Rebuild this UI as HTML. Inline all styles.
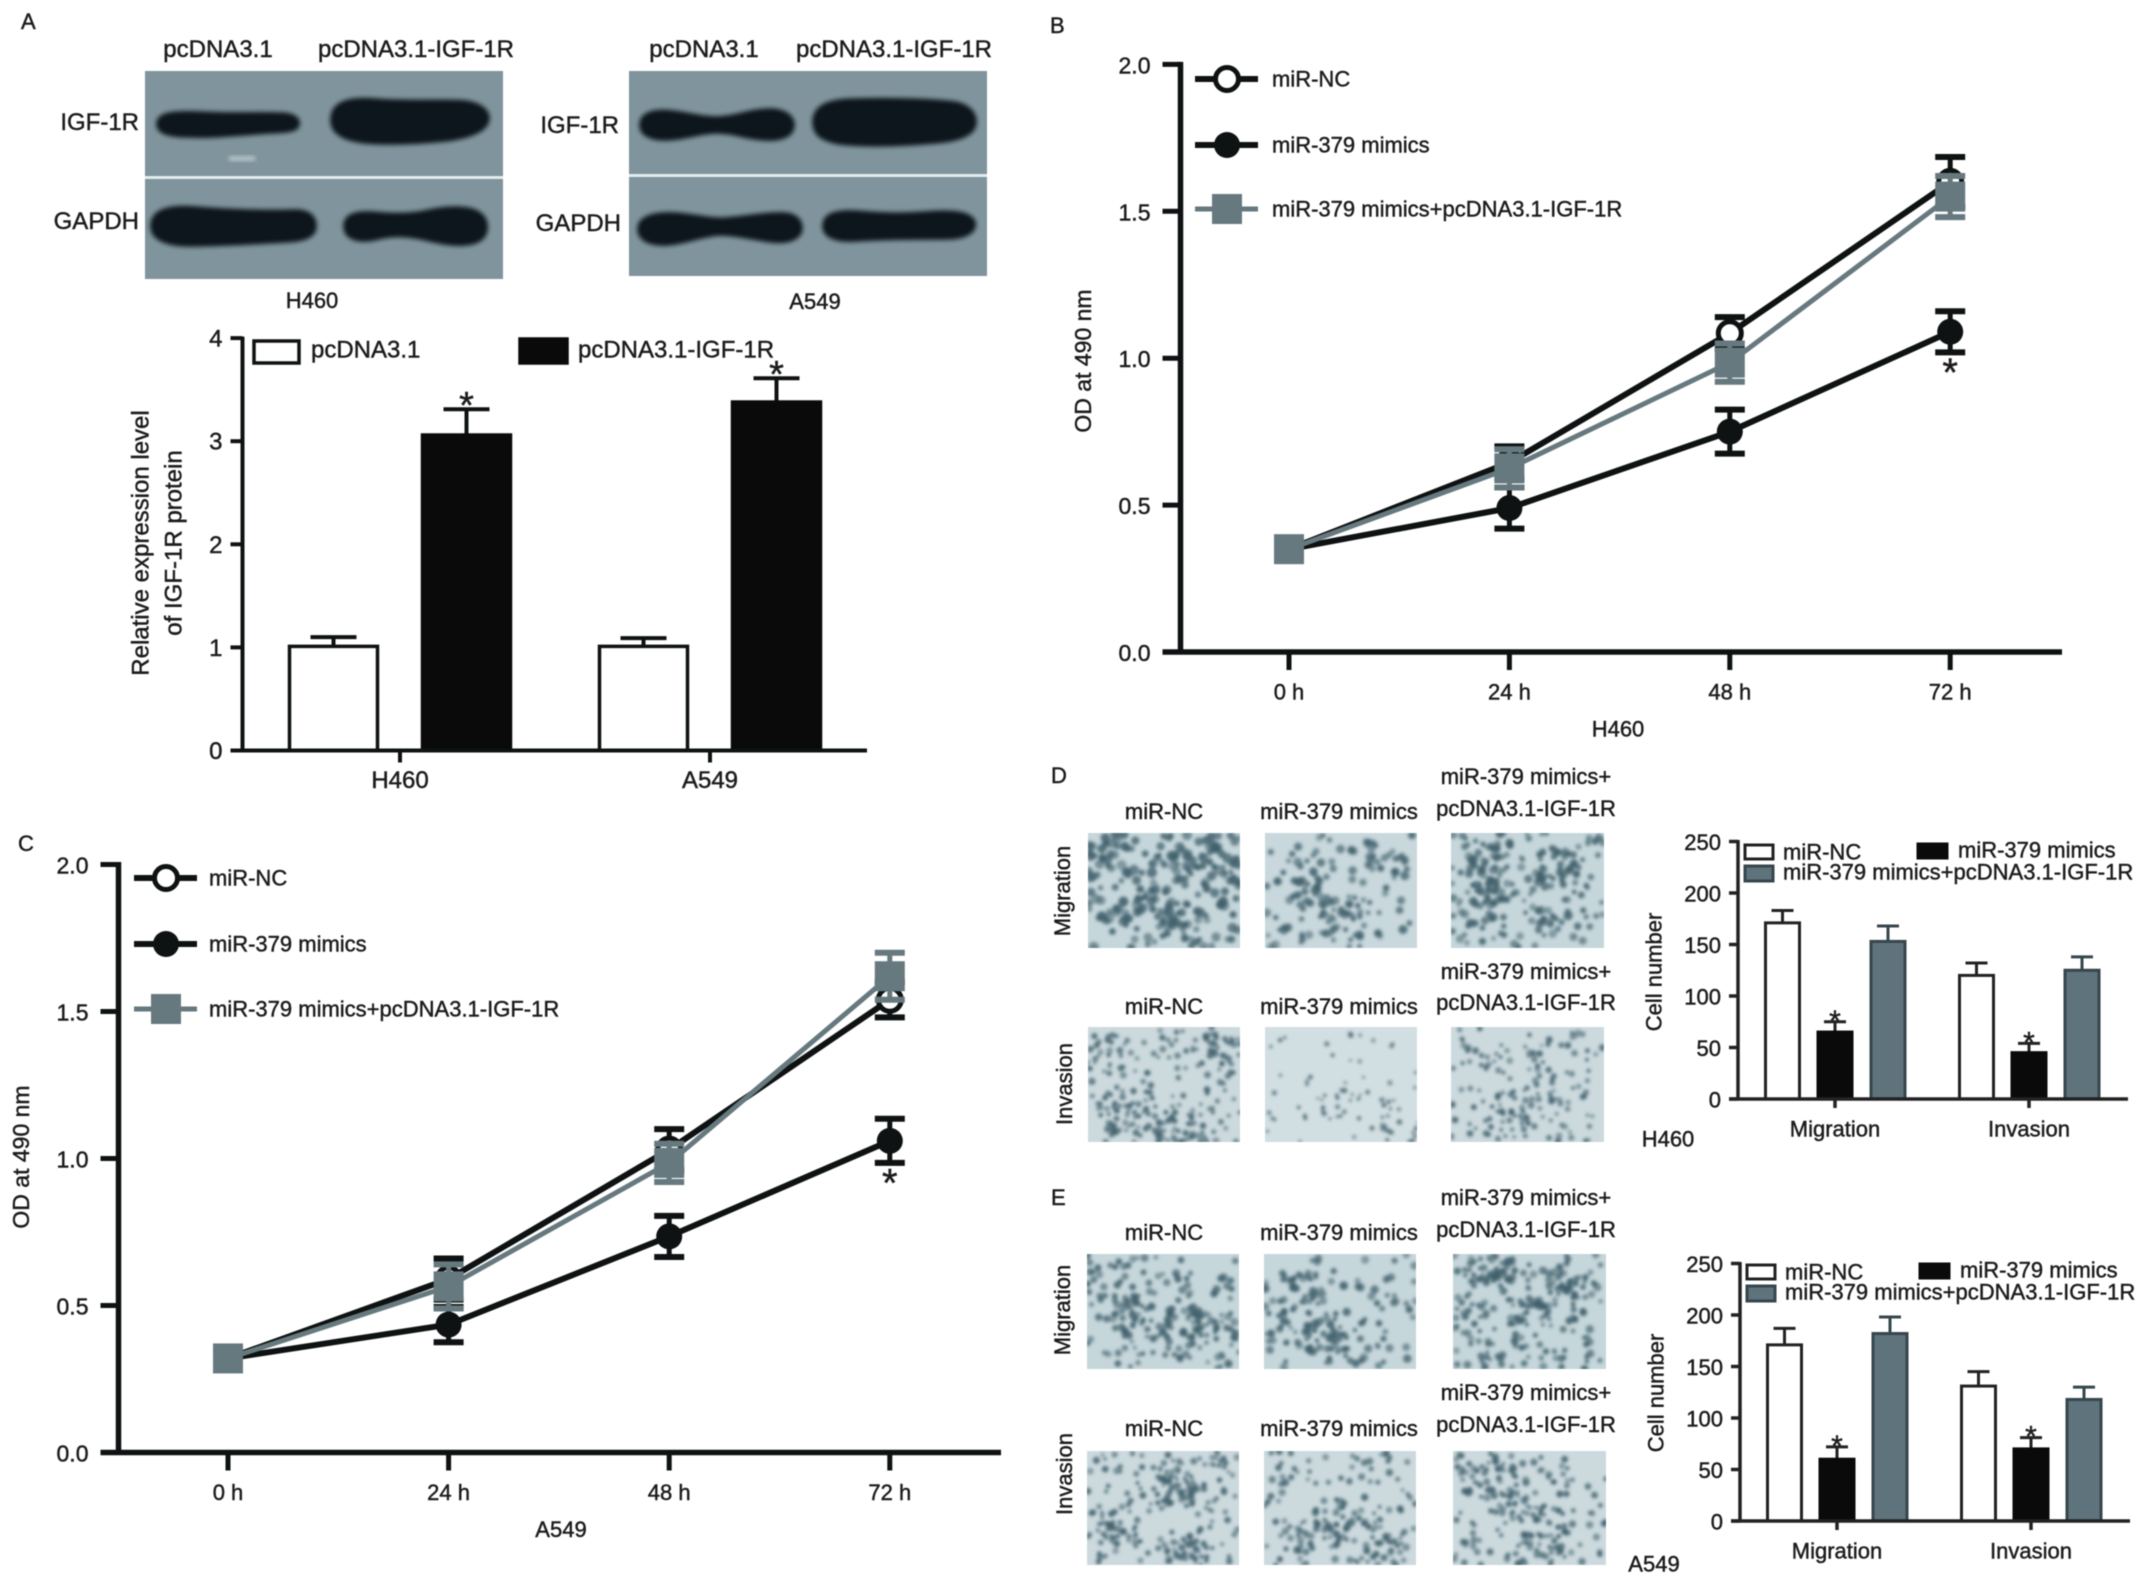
<!DOCTYPE html>
<html lang="en">
<head>
<meta charset="utf-8">
<title>IGF-1R rescue figure</title>
<style>
html,body{margin:0;padding:0;background:#fff;}
body{width:2150px;height:1583px;overflow:hidden;}
#figure{display:block;filter:blur(.6px);}
text{font-family:"Liberation Sans",sans-serif;fill:#1c1c1c;stroke:#1c1c1c;stroke-width:.45px;}
.t22{font-size:22px;}
.t24{font-size:24px;}
.letter{font-size:22px;}
</style>
</head>
<body>
<svg id="figure" xmlns="http://www.w3.org/2000/svg" width="2150" height="1583" viewBox="0 0 2150 1583">
<defs>
<filter id="band-blur" x="-10%" y="-30%" width="120%" height="160%"><feGaussianBlur stdDeviation="2"/></filter>
<filter id="cell-blur" x="-5%" y="-5%" width="110%" height="110%"><feGaussianBlur stdDeviation="1.7"/></filter>
</defs>
<rect width="2150" height="1583" fill="#ffffff"/>

<text class="letter" x="21" y="29">A</text>
<text class="letter" x="1050" y="33">B</text>
<text class="letter" x="18" y="851">C</text>
<text class="letter" x="1051" y="783">D</text>
<text class="letter" x="1051" y="1205">E</text>

<g>
<text class="t24" x="218" y="57" text-anchor="middle">pcDNA3.1</text>
<text class="t24" x="416" y="57" text-anchor="middle">pcDNA3.1-IGF-1R</text>
<rect x="145" y="71" width="358" height="208" fill="#7f949c"/>
<rect x="145" y="176" width="358" height="3" fill="#e3ebed"/>
<rect x="229" y="156" width="26" height="5" fill="#b6c6ca" filter="url(#band-blur)"/>
<g fill="#10151a" stroke="#10151a" stroke-width="3.5" filter="url(#band-blur)">
<path d="M158 124C158 113 175 112 200 113C235 115 250 113 280 114C295 114 299 120 298 124C298 130 290 131 270 132C240 134 215 137 190 136C170 136 158 133 158 124Z"/>
<path d="M332 120C332 102 350 98 375 100C410 103 440 100 465 102C482 104 488 112 488 118C488 130 470 137 445 140C415 143 390 144 365 142C342 139 332 132 332 120Z"/>
<path d="M152 226C152 210 170 206 195 208C230 211 270 212 295 211C310 211 315 218 315 226C315 236 305 240 285 241C250 243 220 245 190 245C165 245 152 238 152 226Z"/>
<path d="M345 226C345 216 355 212 372 213C395 215 410 215 425 212C445 207 470 206 480 214C488 220 488 232 482 238C472 247 450 245 430 240C410 235 395 234 378 238C358 243 345 238 345 226Z"/>
</g>
<text class="t24" x="139" y="130" text-anchor="end">IGF-1R</text>
<text class="t24" x="139" y="229" text-anchor="end">GAPDH</text>
<text class="t22" x="312" y="308" text-anchor="middle">H460</text>
</g>

<g>
<text class="t24" x="704" y="57" text-anchor="middle">pcDNA3.1</text>
<text class="t24" x="894" y="57" text-anchor="middle">pcDNA3.1-IGF-1R</text>
<rect x="629" y="71" width="358" height="205" fill="#7f949c"/>
<rect x="629" y="174" width="358" height="3" fill="#e3ebed"/>
<g fill="#10151a" stroke="#10151a" stroke-width="3.5" filter="url(#band-blur)">
<path d="M641 125C641 113 655 110 672 112C690 114 700 118 716 118C735 118 750 110 770 110C785 110 793 117 793 125C793 135 782 140 765 139C745 138 735 132 716 132C700 132 685 139 665 139C650 139 641 134 641 125Z"/>
<path d="M814 122C814 106 830 100 855 100C890 99 930 100 955 103C970 106 975 114 975 122C975 134 960 140 935 142C900 145 865 146 840 143C822 140 814 134 814 122Z"/>
<path d="M639 229C639 217 655 213 675 214C700 216 710 220 725 219C745 218 765 213 785 214C797 215 801 222 801 228C801 237 790 243 772 241C750 238 735 234 720 234C700 235 680 245 660 244C647 243 639 238 639 229Z"/>
<path d="M824 226C824 215 835 211 855 212C880 214 900 215 925 213C950 211 970 212 974 222C976 232 965 238 945 238C915 238 880 238 855 240C835 241 824 236 824 226Z"/>
</g>
<text class="t24" x="619" y="133" text-anchor="end">IGF-1R</text>
<text class="t24" x="621" y="231" text-anchor="end">GAPDH</text>
<text class="t22" x="815" y="309" text-anchor="middle">A549</text>
</g>

<g text-anchor="middle" font-size="22">
<text x="1164" y="819">miR-NC</text>
<text x="1339" y="819">miR-379 mimics</text>
<text x="1526" y="784">miR-379 mimics+</text>
<text x="1526" y="816">pcDNA3.1-IGF-1R</text>
<text x="1164" y="1014">miR-NC</text>
<text x="1339" y="1014">miR-379 mimics</text>
<text x="1526" y="979">miR-379 mimics+</text>
<text x="1526" y="1010">pcDNA3.1-IGF-1R</text>
<text transform="translate(1070 891) rotate(-90)">Migration</text>
<text transform="translate(1072 1084) rotate(-90)">Invasion</text>
<text x="1164" y="1240">miR-NC</text>
<text x="1339" y="1240">miR-379 mimics</text>
<text x="1526" y="1205">miR-379 mimics+</text>
<text x="1526" y="1237">pcDNA3.1-IGF-1R</text>
<text x="1164" y="1436">miR-NC</text>
<text x="1339" y="1436">miR-379 mimics</text>
<text x="1526" y="1400">miR-379 mimics+</text>
<text x="1526" y="1432">pcDNA3.1-IGF-1R</text>
<text transform="translate(1070 1310) rotate(-90)">Migration</text>
<text transform="translate(1072 1474) rotate(-90)">Invasion</text>
</g>
<g id="cells"></g>
<g id="charts"></g>
</svg>

<script>
/* ---------- Chart A data ---------- */
const aCategories = ['H460', 'A549'];
const aSeriesNames = ['pcDNA3.1', 'pcDNA3.1-IGF-1R'];
const aControl = [1.01, 1.01];
const aControlErr = [0.09, 0.08];
const aOverexpression = [3.06, 3.38];
const aOverexpressionErr = [0.25, 0.23];
const aYTicks = [0, 1, 2, 3, 4];
const aYLabels = ['0', '1', '2', '3', '4'];

/* ---------- Line chart data ---------- */
const timeLabels = ['0 h', '24 h', '48 h', '72 h'];
const lineYTicks = [0, 0.5, 1, 1.5, 2];
const lineYLabels = ['0.0', '0.5', '1.0', '1.5', '2.0'];
const lineSeriesNames = ['miR-NC', 'miR-379 mimics', 'miR-379 mimics+pcDNA3.1-IGF-1R'];

const bNC = [0.35, 0.645, 1.085, 1.60];
const bNCErr = [0, 0.055, 0.055, 0.085];
const bMimics = [0.35, 0.49, 0.75, 1.09];
const bMimicsErr = [0, 0.07, 0.075, 0.07];
const bRescue = [0.35, 0.625, 0.985, 1.55];
const bRescueErr = [0, 0.065, 0.065, 0.07];

const cNC = [0.32, 0.59, 1.03, 1.54];
const cNCErr = [0, 0.07, 0.07, 0.06];
const cMimics = [0.32, 0.435, 0.735, 1.06];
const cMimicsErr = [0, 0.06, 0.07, 0.075];
const cRescue = [0.32, 0.565, 0.985, 1.62];
const cRescueErr = [0, 0.075, 0.065, 0.08];

/* ---------- Cell-count chart data ---------- */
const cellCategories = ['Migration', 'Invasion'];
const cellYTicks = [0, 50, 100, 150, 200, 250];
const cellYLabels = ['0', '50', '100', '150', '200', '250'];

const dNC = [171, 120];
const dNCErr = [12, 12];
const dMimics = [65, 45];
const dMimicsErr = [10, 9];
const dRescue = [153, 125];
const dRescueErr = [15, 13];

const eNC = [171, 131];
const eNCErr = [16, 14];
const eMimics = [60, 70];
const eMimicsErr = [12, 11];
const eRescue = [182, 118];
const eRescueErr = [16, 12];

/* ---------- helpers ---------- */
const NS = 'http://www.w3.org/2000/svg';
const chartsRoot = document.getElementById('charts');
const BLACK = '#0f1212';
const GRAY = '#66797f';

function make(tag, props, parent) {
  const el = document.createElementNS(NS, tag);
  for (const k in props) el.setAttribute(k, props[k]);
  parent.appendChild(el);
  return el;
}
function addLine(parent, name, x1, y1, x2, y2, stroke, width) {
  const el = make('line', {x1: x1, y1: y1, x2: x2, y2: y2, stroke: stroke, 'stroke-width': width}, parent);
  
  
  return el;
}
function addText(parent, name, x, y, str, size, anchor, rot) {
  const el = make('text', {'font-size': size, 'text-anchor': anchor || 'start', 'dominant-baseline': 'central'}, parent);
  if (rot) el.setAttribute('transform', 'translate(' + x + ' ' + y + ') rotate(-90)');
  else { el.setAttribute('x', x); el.setAttribute('y', y); }
  el.textContent = str;
  
  
  return el;
}
function addStar(parent, name, x, cy, size) {
  const el = make('text', {x: x, y: cy + 0.57 * size, 'font-size': size, 'text-anchor': 'middle'}, parent);
  el.textContent = '*';
  
  
  return el;
}
function addMarker(parent, name, kind, x, y, color) {
  let el;
  if (kind === 'square') {
    el = make('rect', {x: x - 15, y: y - 15, width: 30, height: 30, fill: color}, parent);
  } else if (kind === 'open') {
    el = make('circle', {cx: x, cy: y, r: 11.5, fill: '#fff', stroke: color, 'stroke-width': 5}, parent);
  } else {
    el = make('circle', {cx: x, cy: y, r: 13, fill: color}, parent);
  }
  
  
  return el;
}

/* ---------- line charts ---------- */
function drawLineChart(g, series) {
  const root = make('g', {}, chartsRoot);
  
  
  const xScale = function (i) { return g.xStart + i * g.xStep; };
  const yScale = function (v) { return g.yZero - v * g.yUnit; };
  addLine(root, 'y-axis', g.axisX, yScale(lineYTicks[lineYTicks.length - 1]) - 2.5, g.axisX, g.yZero + 2.5, BLACK, 5.5);
  addLine(root, 'x-axis', g.axisX - 18, g.yZero, g.xEnd, g.yZero, BLACK, 5.5);
  lineYTicks.forEach(function (v, i) {
    addLine(root, 'y-tick', g.axisX - 18, yScale(v), g.axisX, yScale(v), BLACK, 5);
    addText(root, 'y-tick-label', g.axisX - 30, yScale(v) + 1, lineYLabels[i], 23, 'end');
  });
  timeLabels.forEach(function (t, i) {
    addLine(root, 'x-tick', xScale(i), g.yZero, xScale(i), g.yZero + 18, BLACK, 5);
    addText(root, 'x-tick-label', xScale(i), g.yZero + 40, t, 22, 'middle');
  });
  addText(root, 'y-axis-title', g.titleX, g.titleY, 'OD at 490 nm', 23, 'middle', true);
  addText(root, 'x-axis-caption', g.capX, g.yZero + 77, g.caption, 22, 'middle');

  series.forEach(function (s) {
    const sg = make('g', {}, root);
    
    
    const d = s.values.map(function (v, i) { return (i ? 'L' : 'M') + xScale(i) + ' ' + yScale(v); }).join('');
    const path = make('path', {d: d, fill: 'none', stroke: s.color, 'stroke-width': s.width}, sg);
    
    
    s.values.forEach(function (v, i) {
      if (s.errs[i] > 0) {
        const x = xScale(i), hi = yScale(v + s.errs[i]), lo = yScale(v - s.errs[i]);
        addLine(sg, 'error-stem', x, hi, x, lo, s.color, 5);
        addLine(sg, 'error-cap', x - 15, hi, x + 15, hi, s.color, 6);
        addLine(sg, 'error-cap', x - 15, lo, x + 15, lo, s.color, 6);
      }
      addMarker(sg, 'point', s.kind, xScale(i), yScale(v), s.color);
    });
  });
  const star = series[1];
  const lastI = star.values.length - 1;
  addStar(root, 'significance-star', xScale(lastI), yScale(star.values[lastI] - star.errs[lastI]) + 11, 40);

  series.forEach(function (s, i) {
    const ly = g.legendY[i];
    const lg = make('g', {}, root);
    
    
    addLine(lg, 'legend-line', g.legendX, ly, g.legendX + 63, ly, s.color, s.width);
    addMarker(lg, 'legend-marker', s.kind, g.legendX + 32, ly, s.color);
    addText(lg, 'legend-label', g.legendX + g.legendGap, ly, lineSeriesNames[i], 22, 'start');
  });
}

drawLineChart(
  {name: 'chart-b-h460-proliferation', axisX: 1180.5, yZero: 652, yUnit: 293.8, xStart: 1289, xStep: 220.4, xEnd: 2062,
   titleX: 1083, titleY: 361, capX: 1618, caption: 'H460', legendX: 1195, legendGap: 77, legendY: [79, 145, 209]},
  [
    {key: 'mir-nc', kind: 'open', color: BLACK, width: 6, values: bNC, errs: bNCErr},
    {key: 'mir-379-mimics', kind: 'filled', color: BLACK, width: 6, values: bMimics, errs: bMimicsErr},
    {key: 'rescue', kind: 'square', color: GRAY, width: 5, values: bRescue, errs: bRescueErr}
  ]
);
drawLineChart(
  {name: 'chart-c-a549-proliferation', axisX: 118.5, yZero: 1452.5, yUnit: 294, xStart: 228, xStep: 220.6, xEnd: 1001,
   titleX: 21, titleY: 1157, capX: 561, caption: 'A549', legendX: 134, legendGap: 75, legendY: [878, 944, 1009]},
  [
    {key: 'mir-nc', kind: 'open', color: BLACK, width: 6, values: cNC, errs: cNCErr},
    {key: 'mir-379-mimics', kind: 'filled', color: BLACK, width: 6, values: cMimics, errs: cMimicsErr},
    {key: 'rescue', kind: 'square', color: GRAY, width: 5, values: cRescue, errs: cRescueErr}
  ]
);

/* ---------- bar charts ---------- */
function drawBarChart(g, cats, yTicks, yLabels, series) {
  const root = make('g', {}, chartsRoot);
  
  
  const yTop = yTicks[yTicks.length - 1];
  const yScale = function (v) { return g.yZero - v * g.yUnit; };
  const groupX = function (i) { return g.groupStart + i * g.groupStep; };
  series.forEach(function (s, si) {
    cats.forEach(function (c, ci) {
      const cx = groupX(ci) + g.offsets[si];
      const v = s.values[ci];
      const top = yScale(v + s.errs[ci]);
      addLine(root, 'error-stem-' + c.toLowerCase(), cx, top, cx, yScale(v), s.errColor, g.errWidth);
      addLine(root, 'error-cap-' + c.toLowerCase(), cx - g.capW / 2, top, cx + g.capW / 2, top, s.errColor, g.errWidth);
      const bar = make('rect', {x: cx - g.barW / 2, y: yScale(v), width: g.barW, height: g.yZero - yScale(v), fill: s.fill, stroke: s.stroke, 'stroke-width': g.barStroke}, root);
      
      
      if (s.star) addStar(root, 'significance-star', cx, top - g.starGap, g.starSize);
    });
  });
  addLine(root, 'y-axis', g.axisX, yScale(yTop) - 1.5, g.axisX, g.yZero, g.axisColor, g.axisW);
  addLine(root, 'x-axis', g.axisX - g.tickL, g.yZero, g.xEnd, g.yZero, g.axisColor, g.axisW);
  yTicks.forEach(function (v, i) {
    addLine(root, 'y-tick', g.axisX - g.tickL, yScale(v), g.axisX, yScale(v), g.axisColor, g.axisW);
    addText(root, 'y-tick-label', g.axisX - g.tickL - 8, yScale(v) + 1, yLabels[i], g.fs, 'end');
  });
  cats.forEach(function (c, i) {
    addLine(root, 'x-tick', groupX(i), g.yZero, groupX(i), g.yZero + g.tickL, g.axisColor, g.axisW);
    addText(root, 'x-category-label', groupX(i), g.yZero + g.catGap, c, g.fs, 'middle');
  });
  g.titles.forEach(function (t, i) {
    addText(root, 'y-axis-title', g.titleX[i], g.titleY, t, g.fs, 'middle', true);
  });
  g.legend.forEach(function (l) {
    const lg = make('g', {}, root);
    
    
    const box = make('rect', {x: l.x, y: l.y, width: l.w, height: l.h, fill: l.fill, stroke: l.stroke, 'stroke-width': g.barStroke}, lg);
    
    
    addText(lg, 'legend-label', l.tx, l.ty, l.label, g.fs, 'start');
  });
  if (g.note) addText(root, 'cell-line-label', g.note.x, g.note.y, g.note.t, 22, 'middle');
}

drawBarChart(
  {name: 'chart-a-igf1r-expression', axisX: 242.5, yZero: 750.5, yUnit: 103.1, xEnd: 867, groupStart: 400, groupStep: 310,
   offsets: [-66.5, 66.5], barW: 88, capW: 46, barStroke: 3.5, errWidth: 4, axisW: 4, axisColor: BLACK, tickL: 12, catGap: 30, fs: 24,
   starGap: 13, starSize: 38, titles: ['Relative expression level', 'of IGF-1R protein'], titleX: [141, 174], titleY: 543,
   legend: [
     {x: 254, y: 341, w: 45, h: 22, fill: '#fff', stroke: BLACK, tx: 311, ty: 350, label: aSeriesNames[0]},
     {x: 520, y: 339, w: 47, h: 24, fill: '#0a0a0a', stroke: '#0a0a0a', tx: 578, ty: 350, label: aSeriesNames[1]}
   ]},
  aCategories, aYTicks, aYLabels,
  [
    {key: 'pcdna', fill: '#fff', stroke: BLACK, errColor: BLACK, values: aControl, errs: aControlErr},
    {key: 'pcdna-igf1r', fill: '#0a0a0a', stroke: '#0a0a0a', errColor: BLACK, values: aOverexpression, errs: aOverexpressionErr, star: true}
  ]
);
function cellChart(name, dy, legendDy, titleY, dx, titleDx, note, nc, ncE, mi, miE, re, reE) {
  const s1 = lineSeriesNames[0], s2 = lineSeriesNames[1], s3 = lineSeriesNames[2];
  drawBarChart(
    {name: name, axisX: 1738 + dx, yZero: 1101 + dy, yUnit: 1.03, xEnd: 2128 + dx, groupStart: 1835 + dx, groupStep: 194,
     offsets: [-52.5, 0, 53], barW: 34, capW: 22, barStroke: 3, errWidth: 3, axisW: 3.5, axisColor: '#222', tickL: 9, catGap: 30, fs: 22,
     starGap: 8, starSize: 30, titles: ['Cell number'], titleX: [1654 + titleDx], titleY: titleY,
     legend: [
       {x: 1745 + dx, y: 845 + legendDy, w: 28, h: 14, fill: '#fff', stroke: '#222', tx: 1783 + dx, ty: 852 + legendDy, label: s1},
       {x: 1918 + dx, y: 844 + legendDy, w: 29, h: 14, fill: '#0a0a0a', stroke: '#0a0a0a', tx: 1958 + dx, ty: 850 + legendDy, label: s2},
       {x: 1745 + dx, y: 866 + legendDy, w: 28, h: 15, fill: '#5e737b', stroke: '#36464c', tx: 1783 + dx, ty: 872 + legendDy, label: s3}
     ],
     note: note},
    cellCategories, cellYTicks, cellYLabels,
    [
      {key: 'mir-nc', fill: '#fff', stroke: '#222', errColor: '#222', values: nc, errs: ncE},
      {key: 'mir-379-mimics', fill: '#0a0a0a', stroke: '#0a0a0a', errColor: '#222', values: mi, errs: miE, star: true},
      {key: 'rescue', fill: '#5e737b', stroke: '#36464c', errColor: '#36464c', values: re, errs: reE}
    ]
  );
}
cellChart('chart-d-h460-cell-number', -2, 0, 972, 0, 0, {x: 1668, y: 1139, t: 'H460'}, dNC, dNCErr, dMimics, dMimicsErr, dRescue, dRescueErr);
cellChart('chart-e-a549-cell-number', 420, 420, 1393, 2, 2, {x: 1654, y: 1564, t: 'A549'}, eNC, eNCErr, eMimics, eMimicsErr, eRescue, eRescueErr);

/* ---------- micrograph texture (not chart data) ---------- */
const cellPanels = [
  {n: 'h460-migration-nc', x: 1088, y: 833, w: 152, h: 115, dots: 230, r: 4.4, bg: '#c6d7db', hot: [[.55,.25],[.45,.65],[.2,.72],[.15,.25],[.85,.2],[.65,.8]]},
  {n: 'h460-migration-mimics', x: 1265, y: 833, w: 152, h: 115, dots: 150, r: 3.8, bg: '#c8d8dc', hot: [[.24,.47],[.8,.2],[.5,.7]]},
  {n: 'h460-migration-rescue', x: 1451, y: 833, w: 153, h: 115, dots: 230, r: 3.8, bg: '#c6d7db', hot: [[.7,.3],[.3,.5],[.25,.2]]},
  {n: 'h460-invasion-nc', x: 1088, y: 1027, w: 152, h: 115, dots: 240, r: 3, bg: '#ccdade', hot: [[.12,.2],[.9,.2],[.2,.8],[.6,.9]]},
  {n: 'h460-invasion-mimics', x: 1265, y: 1027, w: 152, h: 115, dots: 80, r: 2.4, bg: '#d2dfe2', hot: [[.5,.72],[.9,.9]]},
  {n: 'h460-invasion-rescue', x: 1451, y: 1027, w: 153, h: 115, dots: 160, r: 3, bg: '#ccdade', hot: [[.2,.2],[.5,.32],[.4,.7],[.6,.65],[.35,.85]]},
  {n: 'a549-migration-nc', x: 1087, y: 1254, w: 152, h: 115, dots: 210, r: 3.6, bg: '#c6d7db', hot: [[.3,.5],[.6,.6],[.85,.65]]},
  {n: 'a549-migration-mimics', x: 1264, y: 1254, w: 152, h: 115, dots: 170, r: 3.6, bg: '#c6d7db', hot: [[.4,.72],[.25,.3]]},
  {n: 'a549-migration-rescue', x: 1453, y: 1254, w: 153, h: 115, dots: 250, r: 3.4, bg: '#c6d7db', hot: [[.25,.1],[.5,.5],[.75,.3]]},
  {n: 'a549-invasion-nc', x: 1087, y: 1451, w: 152, h: 114, dots: 240, r: 3, bg: '#ccdade', hot: [[.65,.85],[.2,.7],[.6,.35]]},
  {n: 'a549-invasion-mimics', x: 1264, y: 1451, w: 152, h: 114, dots: 170, r: 3.2, bg: '#ccdade', hot: [[.6,.55],[.35,.75],[.8,.85]]},
  {n: 'a549-invasion-rescue', x: 1453, y: 1451, w: 153, h: 114, dots: 210, r: 3.2, bg: '#ccdade', hot: [[.4,.45],[.65,.6],[.2,.25],[.55,.85]]}
];
(function () {
  const host = document.getElementById('cells');
  let seed = 12345;
  const rnd = function () { seed = (seed * 1664525 + 1013904223) % 4294967296; return seed / 4294967296; };
  cellPanels.forEach(function (p) {
    const box = make('svg', {x: p.x, y: p.y, width: p.w, height: p.h, viewBox: '0 0 ' + p.w + ' ' + p.h}, host);
    
    
    make('rect', {width: p.w, height: p.h, fill: p.bg}, box);
    const dotsG = make('g', {fill: '#41606c', filter: 'url(#cell-blur)'}, box);
    for (let i = 0; i < p.dots; i++) {
      let x, y;
      if (rnd() < 0.38) {
        const h = p.hot[Math.floor(rnd() * p.hot.length)];
        x = (h[0] + (rnd() - .5) * .28) * p.w;
        y = (h[1] + (rnd() - .5) * .28) * p.h;
      } else {
        x = rnd() * p.w;
        y = rnd() * p.h;
      }
      make('circle', {cx: x.toFixed(1), cy: y.toFixed(1), r: (p.r * (0.6 + rnd() * 0.6)).toFixed(1), opacity: (0.5 + rnd() * 0.4).toFixed(2)}, dotsG);
    }
  });
})();
</script>
</body>
</html>
